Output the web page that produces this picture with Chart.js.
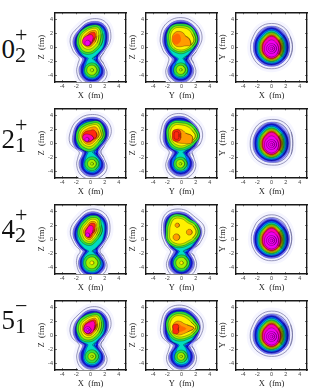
<!DOCTYPE html>
<html>
<head>
<meta charset="utf-8">
<script src="https://cdn.jsdelivr.net/npm/chart.js@4"></script>
<style>
html,body{margin:0;padding:0;background:#fff;overflow:hidden;width:332px;height:388px}
canvas{position:absolute;filter:blur(.45px)}
.st{position:absolute;font-family:"Liberation Serif",serif;color:#111;line-height:1;white-space:pre}
</style>
</head>
<body>
<script>
// state labels: big digit, lower index, parity sign
const stateDigit = ["0", "2", "4", "5"];
const stateIndex = ["2", "1", "2", "1"];
const stateSign = ["+", "+", "+", "\u2212"];
const xTitles = ["X  (fm)", "Y  (fm)", "X  (fm)"];
const yTitles = ["Z  (fm)", "Z  (fm)", "Y  (fm)"];
const tickVals = [-4, -2, 0, 2, 4];

// density level colours, low to high
const levelFill = ["#eeeefe", "#b4b4f6", "#1414e4", "#0070ff", "#00dcc0", "#30e040", "#a8f000", "#fff000", "#ff9c00", "#ff2810", "#ff00b0", "#f000f0", "#ff6a00"];
const levelLine = ["#666698", "#5a5a94", "rgba(0,0,70,.65)", "rgba(0,0,0,.4)", "rgba(0,0,0,.4)", "rgba(0,0,0,.5)", "rgba(0,0,0,.5)", "rgba(0,0,0,.5)", "rgba(0,0,0,.5)", "rgba(0,0,0,.5)", "rgba(0,0,0,.5)", "rgba(0,0,0,.5)", null];
// soft band painted just outside a contour, by level
const levelGlow = { 0: ["#f5f5ff", 7], 2: ["#6c6cee", 3.4] };

// contours: [level, centre x, centre y, radii in fm at equal angles from +x]
const xz0 = [
  [0, 0, -1.6, [1.4,2.0,4.05,5.6,5.63,4.75,4.03,2.65,1.6, 1.9,2.75,3.58,3.95,3.85,3.3,2.0]],
  [1, 0, -1.6, [.95,1.45,3.5,5.15,5.23,4.35,3.5,2.1,1.15, 1.3,2.3,3.14,3.55,3.44,2.85,1.5]],
  [2, 0, -1.6, [.65,1.15,3.15,4.9,4.98,4.1,3.15,1.75,.85, .95,1.83,2.79,3.25,3.13,2.47,1.1]],
  [3, 0, -1.6, [.45,.9,2.85,4.7,4.78,3.9,2.85,1.45,.6, .7,1.3,2.54,3.05,2.92,2.17,.75]],
  [4, 0, -1.6, [.25,.65,2.6,4.5,4.58,3.7,2.55,1.15,.3, .4,.8,2.27,2.85,2.7,1.78,.4]],
  [5, .2, -3.3, [1.05,1.05,1.05,1.05,1.05,1.05]],
  [6, .2, -3.3, [.72,.72,.72,.72,.72,.72]],
  [6, .2, -3.3, [.25,.25,.25,.25,.25,.25]],
  [5, 0, 1, [1.75,2.0,2.4,2.1,1.9,1.9,1.95,2.05,2.15,2.0,1.7,1.65]],
  [6, 0, 1, [1.4,1.7,2.1,1.8,1.6,1.6,1.65,1.75,1.85,1.7,1.4,1.35]],
  [7, 0, 1.1, [1.1,1.35,1.75,1.5,1.3,1.3,1.35,1.45,1.5,1.35,1.1,1.05]],
  [8, 0, 1.1, [.8,1.05,1.45,1.2,1.0,1.0,1.05,1.15,1.2,1.05,.8,.75]],
  [9, 0, 1.1, [.55,.8,1.15,.95,.75,.75,.8,.9,.95,.8,.55,.5]],
  [10, -.35, .85, [.6,.85,1.05,.85,.75,.75,.8,.8,.7,.65,.6,.55]],
  [11, -.4, .6, [.4,.4,.4,.4,.4,.4]]
];
const xz1 = [
  [0, 0, -1.25, [1.45,2.05,4.15,5.2,5.35,4.9,4.03,3.1,1.6, 1.9,2.75,3.58,3.95,3.85,3.3,2.0]],
  [1, 0, -1.25, [1.0,1.5,3.6,4.75,4.95,4.5,3.5,2.55,1.15, 1.3,2.3,3.14,3.55,3.44,2.85,1.5]],
  [2, 0, -1.25, [.7,1.2,3.25,4.5,4.7,4.25,3.15,2.2,.85, .95,1.83,2.79,3.25,3.13,2.47,1.1]],
  [3, 0, -1.25, [.5,.95,2.95,4.3,4.5,4.05,2.85,1.9,.6, .7,1.3,2.54,3.05,2.92,2.17,.75]],
  [4, 0, -1.25, [.3,.7,2.7,4.1,4.3,3.85,2.55,1.6,.35, .4,.8,2.27,2.85,2.7,1.78,.4]],
  [5, .2, -2.95, [1.0,1.0,1.0,1.0,1.0,1.0]],
  [6, .2, -2.95, [.62,.62,.62,.62,.62,.62]],
  [6, .2, -2.95, [.22,.22,.22,.22,.22,.22]],
  [5, 0, 1, [2.05,2.2,2.45,2.1,2.0,2.05,2.05,2.1,2.2,2.2,1.85,1.75]],
  [6, 0, 1, [1.75,1.9,2.15,1.8,1.7,1.75,1.75,1.8,1.85,1.85,1.55,1.45]],
  [7, 0, 1.05, [1.5,1.6,1.8,1.5,1.4,1.45,1.5,1.5,1.55,1.5,1.25,1.2]],
  [8, 0, 1.05, [1.2,1.3,1.45,1.2,1.1,1.2,1.25,1.25,1.3,1.2,1.0,.95]],
  [9, -.1, 1, [1.0,1.05,1.05,.8,.85,.95,1.0,1.0,.95,.85,.7,.8]],
  [10, -.45, .75, [.9,.7,.55,.55,.6,.65,.65,.6,.55,.55,.55,.7]],
  [11, -.5, .55, [.3,.3,.3,.3,.3,.3]]
];
const xz2 = [
  [0, 0, -1.7, [1.3,1.9,3.85,5.65,6.0,5.0,4.03,2.4,1.45, 2.0,2.75,3.58,3.95,3.85,3.3,2.0]],
  [1, 0, -1.7, [.9,1.35,3.3,5.2,5.6,4.6,3.5,1.85,1.05, 1.35,2.4,3.2,3.65,3.5,2.9,1.55]],
  [2, 0, -1.7, [.6,1.05,2.95,4.95,5.35,4.35,3.15,1.5,.75, 1.0,2.0,2.95,3.4,3.25,2.65,1.15]],
  [3, 0, -1.7, [.4,.8,2.65,4.75,5.15,4.15,2.85,1.2,.5, .7,1.75,2.75,3.2,3.1,2.45,.8]],
  [4, 0, -1.7, [.2,.55,2.4,4.55,4.95,3.95,2.55,.9,.25, .35,1.3,2.55,3.05,2.9,2.15,.35]],
  [5, .2, -3.4, [1.2,1.2,1.2,1.2,1.2,1.2]],
  [6, .2, -3.4, [.85,.85,.85,.85,.85,.85]],
  [7, .2, -3.4, [.28,.28,.28,.28,.28,.28]],
  [5, 0, 1.1, [1.65,1.8,2.4,2.25,1.85,1.75,1.8,1.85,2.0,2.0,1.6,1.5]],
  [6, 0, 1.1, [1.35,1.5,2.1,1.95,1.55,1.45,1.5,1.55,1.7,1.7,1.3,1.2]],
  [7, 0, 1.1, [1.05,1.2,1.8,1.7,1.25,1.2,1.2,1.25,1.4,1.4,1.05,.95]],
  [8, 0, 1.1, [.8,.95,1.5,1.4,1.0,.95,1.0,1.0,1.15,1.15,.8,.7]],
  [9, 0, 1.1, [.55,.7,1.25,1.15,.75,.7,.75,.8,.9,.9,.55,.45]],
  [10, -.2, 1, [.5,.65,1.0,.9,.55,.5,.55,.6,.7,.7,.45,.4]],
  [11, -.4, .6, [.3,.3,.3,.3,.3,.3]]
];
const xz3 = [
  [0, 0, -1.35, [1.45,2.05,4.1,5.3,5.4,4.6,3.95,2.9,1.6, 1.9,2.75,3.58,3.95,3.85,3.3,2.0]],
  [1, 0, -1.35, [1.0,1.5,3.55,4.85,5.0,4.2,3.4,2.35,1.15, 1.3,2.3,3.14,3.55,3.44,2.85,1.5]],
  [2, 0, -1.35, [.7,1.2,3.2,4.6,4.75,3.95,3.05,2.0,.85, .95,1.83,2.79,3.25,3.13,2.47,1.1]],
  [3, 0, -1.35, [.5,.95,2.9,4.4,4.55,3.75,2.75,1.7,.6, .7,1.3,2.54,3.05,2.92,2.17,.75]],
  [4, 0, -1.35, [.3,.7,2.65,4.2,4.35,3.55,2.45,1.4,.35, .4,.8,2.27,2.85,2.7,1.78,.4]],
  [5, .2, -3.05, [.95,.95,.95,.95,.95,.95]],
  [6, .2, -3.05, [.55,.55,.55,.55,.55,.55]],
  [6, .2, -3.05, [.2,.2,.2,.2,.2,.2]],
  [5, 0, 1.05, [1.8,2.05,2.4,2.05,1.9,1.95,2.0,2.05,2.15,2.0,1.75,1.7]],
  [6, 0, 1.05, [1.5,1.75,2.1,1.75,1.6,1.65,1.7,1.75,1.85,1.7,1.45,1.4]],
  [7, 0, 1.1, [1.2,1.45,1.8,1.5,1.3,1.35,1.4,1.45,1.55,1.4,1.15,1.1]],
  [8, 0, 1.1, [.95,1.15,1.5,1.2,1.05,1.1,1.15,1.2,1.25,1.15,.9,.85]],
  [9, 0, 1.1, [.75,.95,1.25,1.0,.85,.9,.95,1.0,1.05,.9,.7,.65]],
  [10, -.15, 1, [.7,.9,1.15,.85,.75,.75,.8,.85,.8,.75,.7,.65]],
  [11, -.4, .75, [.48,.48,.48,.48,.48,.48]],
  [11, -.4, .75, [.22,.22,.22,.22,.22,.22]]
];
const yz0 = [
  [0, -.1, -1.55, [1.5,2.35,4.24,5.35,5.8,5.35,4.1,2.7,1.7, 1.95,3.0,3.71,3.95,3.71,3.0,1.95]],
  [1, -.1, -1.55, [1.05,1.8,3.7,4.9,5.4,4.9,3.6,2.15,1.25, 1.4,2.59,3.29,3.55,3.29,2.59,1.4]],
  [2, -.1, -1.55, [.75,1.45,3.35,4.65,5.15,4.65,3.25,1.8,.95, .95,2.15,2.96,3.25,2.96,2.15,.95]],
  [3, -.1, -1.55, [.55,1.2,3.05,4.45,4.95,4.45,2.95,1.5,.7, .6,1.77,2.73,3.05,2.73,1.77,.6]],
  [4, -.1, -1.55, [.35,.95,2.8,4.25,4.75,4.25,2.65,1.2,.45, .35,.9,2.49,2.85,2.49,.9,.35]],
  [5, -.1, -3.25, [1.0,1.0,1.0,1.0,1.0,1.0]],
  [6, -.1, -3.25, [.65,.65,.65,.65,.65,.65]],
  [6, -.1, -3.25, [.2,.2,.2,.2,.2,.2]],
  [5, 0, 1, [2.3,2.3,2.4,2.35,2.5,2.3,2.05,2.05,1.95,1.95,1.85,2.05]],
  [6, 0, 1, [2.0,2.0,2.1,2.05,2.2,2.0,1.75,1.75,1.7,1.65,1.6,1.75]],
  [7, 0, 1, [1.75,1.7,1.8,1.8,1.95,1.75,1.5,1.5,1.45,1.4,1.4,1.5]],
  [8, -.2, 1.2, [1.3,.85,.95,1.05,1.15,1.15,1.1,1.15,1.2,1.15,1.2,1.75]],
  [12, -.7, 1.15, [.55,.6,.75,.75,.65,.6,.55,.6,.7,.75,.65,.6]]
];
const yz1 = [
  [0, -.1, -1.2, [1.6,3.0,4.24,4.9,5.45,5.2,4.0,2.95,1.65, 1.95,3.0,3.71,3.95,3.71,3.0,1.95]],
  [1, -.1, -1.2, [1.15,2.45,3.7,4.5,5.05,4.8,3.5,2.4,1.2, 1.4,2.59,3.29,3.55,3.29,2.59,1.4]],
  [2, -.1, -1.2, [.85,2.1,3.35,4.25,4.8,4.55,3.15,2.05,.9, .95,2.15,2.96,3.25,2.96,2.15,.95]],
  [3, -.1, -1.2, [.65,1.85,3.05,4.05,4.6,4.35,2.85,1.75,.65, .6,1.77,2.73,3.05,2.73,1.77,.6]],
  [4, -.1, -1.2, [.45,1.6,2.8,3.85,4.4,4.15,2.55,1.45,.4, .35,.9,2.49,2.85,2.49,.9,.35]],
  [5, -.15, -2.95, [.95,.95,.95,.95,.95,.95]],
  [6, -.15, -2.95, [.6,.6,.6,.6,.6,.6]],
  [6, -.15, -2.95, [.2,.2,.2,.2,.2,.2]],
  [5, 0, 1, [2.55,2.35,2.25,2.2,2.45,2.35,2.1,2.05,2.05,2.0,1.95,2.15]],
  [6, 0, 1, [2.25,2.05,1.95,1.9,2.15,2.05,1.8,1.75,1.75,1.7,1.65,1.85]],
  [7, 0, 1, [1.95,1.7,1.6,1.6,1.85,1.75,1.55,1.45,1.4,1.4,1.4,1.6]],
  [8, -.2, 1, [1.7,.9,.9,1.0,1.1,1.05,1.05,1.0,1.0,1.0,1.2,1.9]],
  [9, -.7, 1.1, [.6,.7,.85,.85,.85,.7,.6,.7,.85,.85,.85,.7]],
  [9, -.7, 1.1, [.35,.4,.55,.55,.55,.4,.35,.4,.55,.55,.55,.4]]
];
const yz2 = [
  [0, 0, -1.7, [1.35,2.75,4.6,5.2,6.0,5.8,4.0,2.5,1.55, 1.95,3.0,3.71,3.95,3.71,3.0,1.95]],
  [1, 0, -1.7, [.95,2.2,4.05,4.8,5.6,5.4,3.5,1.95,1.1, 1.4,2.59,3.29,3.55,3.29,2.59,1.4]],
  [2, 0, -1.7, [.65,1.85,3.7,4.55,5.35,5.15,3.15,1.6,.8, .95,2.15,2.96,3.25,2.96,2.15,.95]],
  [3, 0, -1.7, [.45,1.6,3.4,4.35,5.15,4.95,2.85,1.3,.55, .6,1.77,2.73,3.05,2.73,1.77,.6]],
  [4, 0, -1.7, [.25,1.35,3.15,4.15,4.95,4.75,2.55,1.0,.3, .35,.9,2.49,2.95,2.49,.9,.35]],
  [5, 0, -3.4, [1.15,1.15,1.15,1.15,1.15,1.15]],
  [6, 0, -3.4, [.8,.8,.8,.8,.8,.8]],
  [7, 0, -3.4, [.25,.25,.25,.25,.25,.25]],
  [5, .1, 1, [2.55,2.4,2.15,2.5,2.8,2.5,2.3,2.5,2.4,2.2,2.05,2.3]],
  [6, .1, 1, [2.25,2.1,1.85,2.2,2.5,2.2,2.05,2.25,2.15,1.95,1.8,2.0]],
  [7, .1, 1, [1.95,1.8,1.55,1.9,2.2,1.9,1.75,1.95,1.85,1.65,1.5,1.7]],
  [8, -.6, 2, [.32,.32,.32,.32,.32,.32]],
  [8, -.72, .28, [.48,.48,.48,.48,.48,.48]],
  [8, 1.1, 1, [.42,.42,.42,.42,.42,.42]]
];
const yz3 = [
  [0, 0, -1.35, [1.45,2.8,4.3,5.1,5.65,5.4,4.1,3.0,1.65, 1.95,3.0,3.71,3.95,3.71,3.0,1.95]],
  [1, 0, -1.35, [1.0,2.25,3.75,4.7,5.25,5.0,3.6,2.45,1.2, 1.4,2.59,3.29,3.55,3.29,2.59,1.4]],
  [2, 0, -1.35, [.7,1.9,3.4,4.45,5.0,4.75,3.25,2.1,.9, .95,2.15,2.96,3.25,2.96,2.15,.95]],
  [3, 0, -1.35, [.5,1.65,3.1,4.25,4.8,4.55,2.95,1.8,.65, .6,1.77,2.73,3.05,2.73,1.77,.6]],
  [4, 0, -1.35, [.3,1.4,2.85,4.05,4.6,4.35,2.65,1.5,.4, .35,.9,2.49,2.85,2.49,.9,.35]],
  [5, -.05, -3.05, [.9,.9,.9,.9,.9,.9]],
  [6, -.05, -3.05, [.55,.55,.55,.55,.55,.55]],
  [6, -.05, -3.05, [.2,.2,.2,.2,.2,.2]],
  [5, 0, 1.1, [2.55,2.2,2.15,2.25,2.4,2.35,2.15,2.05,2.05,1.95,1.9,2.2]],
  [6, 0, 1.1, [2.25,1.9,1.85,1.95,2.1,2.05,1.85,1.75,1.75,1.65,1.65,1.9]],
  [7, 0, 1.1, [2.0,1.55,1.5,1.65,1.85,1.75,1.6,1.5,1.45,1.35,1.35,1.6]],
  [8, -.1, 1, [1.85,1.0,.8,.95,1.15,1.2,1.15,1.15,1.1,.95,.9,1.1]],
  [12, -.5, .95, [1.1,.6,.6,.7,.75,.7,.7,.7,.7,.65,.55,.7]],
  [9, -.82, .87, [.35,.5,.7,.7,.7,.5,.35,.5,.7,.7,.7,.5]]
];
// inner bands of the round X-Y panels, same shape in most rows
const eggCore = [
  [2, 0, 0, [2.35,2.45,2.8,2.45,2.35,2.45,2.55,2.45]],
  [3, 0, 0, [2.15,2.25,2.6,2.25,2.15,2.3,2.4,2.3]],
  [4, 0, 0, [1.95,2.05,2.4,2.05,1.95,2.1,2.25,2.1]],
  [5, 0, 0, [1.8,1.9,2.2,1.9,1.8,1.95,2.1,1.95]],
  [6, 0, 0, [1.65,1.75,2.05,1.75,1.65,1.8,2.0,1.8]],
  [7, 0, 0, [1.55,1.6,1.9,1.6,1.55,1.7,1.9,1.7]],
  [8, 0, 0, [1.45,1.5,1.8,1.5,1.45,1.6,1.8,1.6]],
  [9, 0, 0, [1.35,1.4,1.7,1.4,1.35,1.5,1.7,1.5]],
  [10, 0, 0, [1.25,1.3,1.55,1.3,1.25,1.4,1.6,1.4]],
  [11, 0, -.2, [1.0,1.05,1.25,1.05,1.0,1.1,1.2,1.1]],
  [11, 0, -.2, [.72,.72,.72,.72,.72,.72]],
  [11, 0, -.2, [.45,.45,.45,.45,.45,.45]],
  [11, 0, -.2, [.2,.2,.2,.2,.2,.2]]
];
const xy0 = [
  [0, 0, 0, [2.95,3.05,3.35,3.4,3.3,3.0,2.95,3.0,3.1,3.1,3.1,3.0]],
  [1, 0, 0, [2.55,2.65,2.95,3.0,2.9,2.6,2.55,2.6,2.7,2.7,2.7,2.6]]
].concat(eggCore);
const xy1 = [
  [0, 0, 0, [3.0,3.2,3.45,3.4,3.3,3.05,3.0,3.1,3.15,3.15,3.3,3.2]],
  [1, 0, 0, [2.6,2.8,3.05,3.0,2.9,2.65,2.6,2.7,2.75,2.75,2.9,2.8]]
].concat(eggCore);
const xy2 = [
  [0, 0, 0, [2.85,3.0,3.35,3.5,3.3,2.95,2.85,2.9,3.05,3.1,3.05,2.9]],
  [1, 0, 0, [2.45,2.6,2.95,3.1,2.9,2.55,2.45,2.5,2.65,2.7,2.65,2.5]]
].concat(eggCore);
const xy3 = [
  [0, 0, 0, [2.95,3.1,3.4,3.45,3.3,3.0,3.0,3.05,3.05,3.05,3.1,3.05]],
  [1, 0, 0, [2.55,2.7,3.0,3.05,2.9,2.6,2.6,2.65,2.65,2.65,2.7,2.65]]
].concat(eggCore);
const panels = [[xz0, yz0, xy0], [xz1, yz1, xy1], [xz2, yz2, xy2], [xz3, yz3, xy3]];

const frameLeft = [55, 146, 236];
const frameTop = [11, 107, 203, 299];
const frameSize = 71;
const padL = 32, padT = 6, padR = 6, padB = 20;

// closed spline: vertices overlap at the ends so the seam keeps its tangent
function contourPoints(c) {
  const radii = c[3];
  const pts = radii.map((r, i) => {
    const a = (i / radii.length) * 2 * Math.PI;
    return { x: c[1] + r * Math.cos(a), y: c[2] + r * Math.sin(a) };
  });
  return [pts[pts.length - 1]].concat(pts, pts.slice(0, 2));
}

function makeAxis(position, extra) {
  return Object.assign({
    type: "linear", position: position, min: -5, max: 5,
    afterBuildTicks: (s) => { s.ticks = tickVals.map((v) => ({ value: v })); },
    grid: { drawOnChartArea: false, tickLength: -2, tickColor: "#222", tickWidth: .6 },
    border: { color: "#1a1a1a", width: 1.4 },
    ticks: { display: false }
  }, extra);
}

function drawPanel(row, col) {
  const cv = document.createElement("canvas");
  const w = padL + frameSize + padR, h = padT + frameSize + padB;
  cv.width = w; cv.height = h;
  cv.style.left = frameLeft[col] - padL + "px";
  cv.style.top = frameTop[row] - padT + "px";
  cv.style.width = w + "px"; cv.style.height = h + "px";
  document.body.appendChild(cv);

  const tickOpts = { display: true, autoSkip: false, maxRotation: 0, color: "#444",
    font: { family: "Liberation Sans", size: 5.5 }, callback: (v) => String(v) };
  const titleFont = { family: "Liberation Serif", size: 8.5 };

  const datasets = [];
  panels[row][col].forEach((c) => {
    const pts = contourPoints(c);
    const glow = levelGlow[c[0]];
    if (glow) {
      datasets.push({ data: pts, showLine: true, tension: .4, pointRadius: 0, capBezierPoints: false,
        borderColor: glow[0], borderWidth: glow[1] });
    }
    datasets.push({
      data: pts, showLine: true, tension: .4, pointRadius: 0,
      capBezierPoints: false, fill: "shape",
      backgroundColor: levelFill[c[0]],
      borderColor: levelLine[c[0]] || levelFill[c[0]],
      borderWidth: c[0] < 2 ? .65 : .55
    });
  });
  // chart.js paints the first dataset on top, so reverse the outer-to-inner list
  datasets.reverse();

  new Chart(cv, {
    type: "scatter",
    data: { datasets: datasets },
    options: {
      responsive: false, animation: false, devicePixelRatio: 1,
      layout: { padding: { top: padT, right: padR } },
      plugins: { legend: { display: false }, tooltip: { enabled: false } },
      scales: {
        x: makeAxis("bottom", {
          afterFit: (s) => { s.height = padB; },
          ticks: Object.assign({}, tickOpts, { padding: 3.5 }),
          title: { display: true, text: xTitles[col], color: "#222", font: titleFont, padding: { top: 0, bottom: 1 } }
        }),
        y: makeAxis("left", {
          afterFit: (s) => { s.width = padL; },
          ticks: Object.assign({}, tickOpts, { padding: 4 }),
          title: { display: true, text: yTitles[col], color: "#222", font: titleFont, padding: { top: 14, bottom: 0 } }
        }),
        x2: makeAxis("top", { afterFit: (s) => { s.height = 0; } }),
        y2: makeAxis("right", { afterFit: (s) => { s.width = 0; } })
      }
    }
  });
}

for (let r = 0; r < 4; r++) for (let c = 0; c < 3; c++) drawPanel(r, c);

// state labels on the left
const labelBase = [60, 150, 240, 331];
function addText(txt, left, baseline, size) {
  const el = document.createElement("div");
  el.className = "st";
  el.textContent = txt;
  el.style.left = left + "px";
  el.style.fontSize = size + "px";
  el.style.top = baseline - size * .891 + "px";
  document.body.appendChild(el);
}
stateDigit.forEach((d, i) => {
  addText(d, 1.5, labelBase[i], 27);
  addText(stateIndex[i], 15, labelBase[i] + 3.5, 22);
  addText(stateSign[i], 15, labelBase[i] - 16, 22);
});
</script>
</body>
</html>
